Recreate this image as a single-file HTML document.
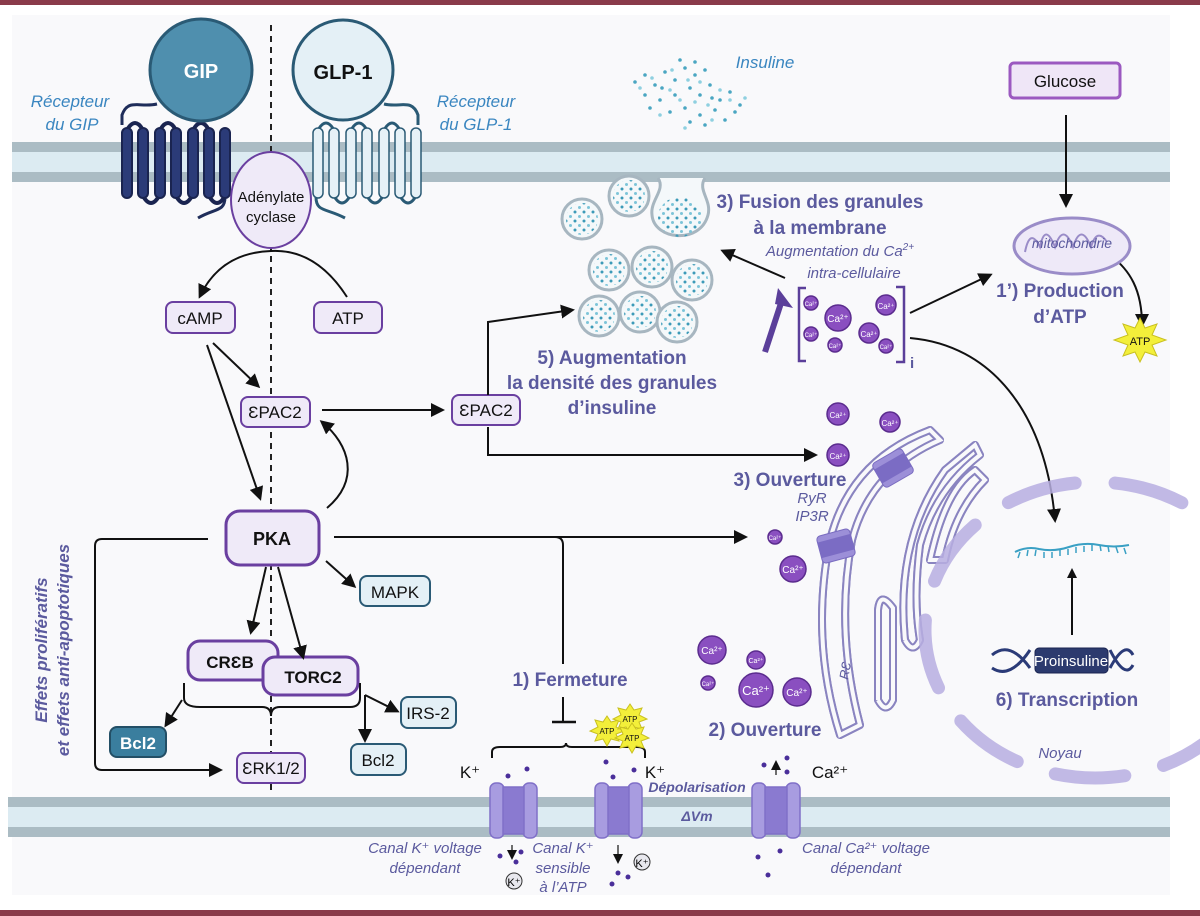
<!DOCTYPE html>
<html><head><meta charset="utf-8"><style>
html,body{margin:0;padding:0;background:#fff}
svg{display:block}
text{font-family:"Liberation Sans","DejaVu Sans",sans-serif}
.it{font-style:italic}
.b{font-weight:bold}
</style></head><body>
<svg width="1200" height="916" viewBox="0 0 1200 916" xmlns="http://www.w3.org/2000/svg">
<defs>
<marker id="ah" markerWidth="10" markerHeight="10" refX="8" refY="5" orient="auto" markerUnits="userSpaceOnUse"><path d="M0,0 L10,5 L0,10 z" fill="#111"/></marker>
<marker id="ah2" markerWidth="14" markerHeight="14" refX="11" refY="7" orient="auto" markerUnits="userSpaceOnUse"><path d="M0,0 L14,7 L0,14 z" fill="#111"/></marker>
<pattern id="dots" width="9" height="9" patternUnits="userSpaceOnUse"><circle cx="2" cy="2" r="1.5" fill="#3c9ab8"/><circle cx="6.5" cy="6.5" r="1.5" fill="#7cc4d8"/></pattern>
<symbol id="gran" viewBox="-22 -22 44 44"><circle r="20" fill="#f4f8fa" stroke="#a7b6c0" stroke-width="3"/><circle r="16" fill="url(#dots)"/></symbol>
</defs>
<rect width="1200" height="916" fill="#fff"/>
<rect x="0" y="0" width="1200" height="5" fill="#8a3b4a"/>
<rect x="0" y="910" width="1200" height="6" fill="#8a3b4a"/>
<rect x="12" y="15" width="1158" height="880" fill="#f9f9fb"/>

<rect x="12" y="142" width="1158" height="40" fill="#dcebf2"/>
<rect x="12" y="142" width="1158" height="10" fill="#abbcc4"/>
<rect x="12" y="172" width="1158" height="10" fill="#abbcc4"/>
<rect x="8" y="797" width="1162" height="40" fill="#dcebf2"/>
<rect x="8" y="797" width="1162" height="10" fill="#abbcc4"/>
<rect x="8" y="827" width="1162" height="10" fill="#abbcc4"/>

<line x1="271" y1="25" x2="271" y2="795" stroke="#222" stroke-width="2" stroke-dasharray="6,5"/>

<path d="M157,104 C140,108 128,98 122,115 L122,125" fill="none" stroke="#1f2d5a" stroke-width="3"/>
<path d="M225,197 C225,212 215,208 198,218" fill="none" stroke="#1f2d5a" stroke-width="3"/>
<g fill="#2b3b78" stroke="#1a2450" stroke-width="2">
<path d="M127,130 q8,-14 16,0 M160,130 q8,-14 16,0 M193,130 q8,-14 16,0 M143,196 q8,14 16,0 M176,196 q8,14 16,0 M209,196 q8,14 16,0" fill="none" stroke="#1a2450" stroke-width="4"/>
<rect x="122" y="128" width="10" height="70" rx="5"/><rect x="138" y="128" width="10" height="70" rx="5"/><rect x="155" y="128" width="10" height="70" rx="5"/><rect x="171" y="128" width="10" height="70" rx="5"/><rect x="188" y="128" width="10" height="70" rx="5"/><rect x="204" y="128" width="10" height="70" rx="5"/><rect x="220" y="128" width="10" height="70" rx="5"/>
</g>
<circle cx="201" cy="70" r="51" fill="#4f8fae" stroke="#2a5a75" stroke-width="3"/>
<text x="201" y="78" text-anchor="middle" class="b" font-size="20" fill="#fff">GIP</text>

<path d="M384,104 C400,108 412,98 418,115 L418,125" fill="none" stroke="#2a5a75" stroke-width="3"/>
<path d="M316,197 C316,212 326,208 345,218" fill="none" stroke="#2a5a75" stroke-width="3"/>
<g fill="#e6f1f7" stroke="#2a5a75" stroke-width="1.5">
<path d="M318,130 q8,-14 16,0 M351,130 q8,-14 16,0 M384,130 q8,-14 16,0 M334,196 q8,14 16,0 M367,196 q8,14 16,0 M400,196 q8,14 16,0" fill="none" stroke-width="3"/>
<rect x="313" y="128" width="10" height="70" rx="5"/><rect x="329" y="128" width="10" height="70" rx="5"/><rect x="346" y="128" width="10" height="70" rx="5"/><rect x="362" y="128" width="10" height="70" rx="5"/><rect x="379" y="128" width="10" height="70" rx="5"/><rect x="395" y="128" width="10" height="70" rx="5"/><rect x="411" y="128" width="10" height="70" rx="5"/>
</g>
<circle cx="343" cy="70" r="50" fill="#e4f0f6" stroke="#2a5a75" stroke-width="3"/>
<text x="343" y="79" text-anchor="middle" class="b" font-size="20" fill="#111">GLP-1</text>

<text x="70" y="107" text-anchor="middle" class="it" font-size="17" fill="#3a86c0">Récepteur</text>
<text x="72" y="130" text-anchor="middle" class="it" font-size="17" fill="#3a86c0">du GIP</text>
<text x="476" y="107" text-anchor="middle" class="it" font-size="17" fill="#3a86c0">Récepteur</text>
<text x="476" y="130" text-anchor="middle" class="it" font-size="17" fill="#3a86c0">du GLP-1</text>

<ellipse cx="271" cy="200" rx="40" ry="48" fill="#efeaf8" stroke="#6a3fa0" stroke-width="2"/>
<text x="271" y="202" text-anchor="middle" font-size="15" fill="#111">Adénylate</text>
<text x="271" y="222" text-anchor="middle" font-size="15" fill="#111">cyclase</text>

<path d="M347,297 C320,255 290,250 271,251 C240,252 215,265 200,296" fill="none" stroke="#111" stroke-width="2" marker-end="url(#ah2)"/>
<g fill="#efeaf8" stroke="#6a3fa0" stroke-width="2">
<rect x="166" y="302" width="69" height="31" rx="7"/>
<rect x="314" y="302" width="68" height="31" rx="7"/>
<rect x="241" y="397" width="69" height="30" rx="7"/>
<rect x="452" y="395" width="68" height="30" rx="7"/>
<rect x="237" y="753" width="68" height="30" rx="7"/>
<rect x="226" y="511" width="93" height="54" rx="14" stroke-width="3"/>
<rect x="188" y="641" width="90" height="39" rx="12" stroke-width="3"/>
<rect x="263" y="657" width="95" height="38" rx="12" stroke-width="3"/>
</g>
<text x="200" y="324" text-anchor="middle" font-size="17" fill="#111">cAMP</text>
<text x="348" y="324" text-anchor="middle" font-size="17" fill="#111">ATP</text>
<text x="275" y="418" text-anchor="middle" font-size="17" fill="#111">ƐPAC2</text>
<text x="486" y="416" text-anchor="middle" font-size="17" fill="#111">ƐPAC2</text>
<text x="271" y="774" text-anchor="middle" font-size="17" fill="#111">ƐRK1/2</text>
<text x="272" y="545" text-anchor="middle" class="b" font-size="18" fill="#111">PKA</text>
<text x="230" y="668" text-anchor="middle" class="b" font-size="17" fill="#111">CRƐB</text>
<text x="313" y="683" text-anchor="middle" class="b" font-size="17" fill="#111">TORC2</text>

<g fill="#e4f0f6" stroke="#2a5a75" stroke-width="2">
<rect x="360" y="576" width="70" height="30" rx="7"/>
<rect x="401" y="697" width="55" height="31" rx="7"/>
<rect x="351" y="744" width="55" height="31" rx="7"/>
</g>
<rect x="110" y="727" width="56" height="30" rx="7" fill="#3a7e9e" stroke="#234f66" stroke-width="2"/>
<text x="395" y="598" text-anchor="middle" font-size="17" fill="#111">MAPK</text>
<text x="428" y="719" text-anchor="middle" font-size="17" fill="#111">IRS-2</text>
<text x="378" y="766" text-anchor="middle" font-size="17" fill="#111">Bcl2</text>
<text x="138" y="749" text-anchor="middle" class="b" font-size="17" fill="#fff">Bcl2</text>

<g fill="none" stroke="#111" stroke-width="2">
<line x1="213" y1="343" x2="258" y2="386" marker-end="url(#ah2)"/>
<line x1="207" y1="345" x2="260" y2="498" marker-end="url(#ah2)"/>
<line x1="322" y1="410" x2="442" y2="410" marker-end="url(#ah2)"/>
<path d="M327,508 C360,480 350,445 322,422" marker-end="url(#ah2)"/>
<path d="M208,539 L102,539 Q95,539 95,546 L95,763 Q95,770 102,770 L220,770" marker-end="url(#ah2)"/>
<line x1="266" y1="567" x2="251" y2="632" marker-end="url(#ah2)"/>
<line x1="278" y1="567" x2="303" y2="657" marker-end="url(#ah2)"/>
<line x1="326" y1="561" x2="354" y2="586" marker-end="url(#ah2)"/>
<path d="M184,683 L184,698 Q184,707 200,707 L262,707 Q271,707 271,716 Q271,707 280,707 L350,707 Q360,707 360,698 L360,683"/>
<line x1="182" y1="700" x2="166" y2="725" marker-end="url(#ah2)"/>
<path d="M365,695 L365,740" marker-end="url(#ah2)"/>
<line x1="365" y1="695" x2="397" y2="711" marker-end="url(#ah2)"/>
<path d="M334,537 L745,537" marker-end="url(#ah2)"/>
<path d="M555,537 Q563,537 563,545 L563,664"/>
<line x1="563" y1="697" x2="563" y2="722"/>
<line x1="552" y1="722" x2="576" y2="722" stroke-width="2.5"/>
<path d="M492,758 L492,752 Q492,747 500,747 L560,747 Q566,747 566,743 Q566,747 572,747 L637,747 Q645,747 645,752 L645,758"/>
<path d="M488,395 L488,322 L572,310" marker-end="url(#ah2)"/>
<path d="M488,427 L488,455 L815,455" marker-end="url(#ah2)"/>
<line x1="785" y1="278" x2="723" y2="251" marker-end="url(#ah2)"/>
<line x1="910" y1="313" x2="990" y2="275" marker-end="url(#ah2)"/>
<line x1="1066" y1="115" x2="1066" y2="205" marker-end="url(#ah2)"/>
<path d="M1110,255 C1130,270 1142,290 1142,325" marker-end="url(#ah2)"/>
<path d="M910,338 C990,345 1045,410 1055,520" marker-end="url(#ah2)"/>
<line x1="1072" y1="635" x2="1072" y2="570" marker-end="url(#ah)"/>
</g>

<text transform="translate(47,650) rotate(-90)" text-anchor="middle" class="it b" font-size="17" fill="#5b5a9e">Effets prolifératifs</text>
<text transform="translate(69,650) rotate(-90)" text-anchor="middle" class="it b" font-size="17" fill="#5b5a9e">et effets anti-apoptotiques</text>

<g fill="#4aa6c2">
<circle cx="635" cy="82" r="1.8"/><circle cx="645" cy="75" r="1.8"/><circle cx="655" cy="85" r="1.8"/><circle cx="665" cy="72" r="1.8"/><circle cx="675" cy="80" r="1.8"/><circle cx="685" cy="68" r="1.8"/><circle cx="695" cy="75" r="1.8"/><circle cx="690" cy="88" r="1.8"/><circle cx="700" cy="95" r="1.8"/><circle cx="710" cy="85" r="1.8"/><circle cx="720" cy="100" r="1.8"/><circle cx="730" cy="92" r="1.8"/><circle cx="740" cy="105" r="1.8"/><circle cx="645" cy="95" r="1.8"/><circle cx="660" cy="100" r="1.8"/><circle cx="675" cy="95" r="1.8"/><circle cx="685" cy="108" r="1.8"/><circle cx="700" cy="115" r="1.8"/><circle cx="715" cy="110" r="1.8"/><circle cx="725" cy="120" r="1.8"/><circle cx="705" cy="125" r="1.8"/><circle cx="690" cy="122" r="1.8"/><circle cx="670" cy="112" r="1.8"/><circle cx="680" cy="60" r="1.8"/><circle cx="695" cy="62" r="1.8"/><circle cx="705" cy="70" r="1.8"/><circle cx="712" cy="98" r="1.8"/><circle cx="735" cy="112" r="1.8"/><circle cx="650" cy="108" r="1.8"/><circle cx="662" cy="88" r="1.8"/>
</g>
<g fill="#8fd0e0"><circle cx="640" cy="88" r="1.8"/><circle cx="652" cy="78" r="1.8"/><circle cx="670" cy="90" r="1.8"/><circle cx="680" cy="100" r="1.8"/><circle cx="695" cy="102" r="1.8"/><circle cx="708" cy="105" r="1.8"/><circle cx="720" cy="90" r="1.8"/><circle cx="730" cy="100" r="1.8"/><circle cx="745" cy="98" r="1.8"/><circle cx="688" cy="80" r="1.8"/><circle cx="700" cy="82" r="1.8"/><circle cx="712" cy="120" r="1.8"/><circle cx="685" cy="128" r="1.8"/><circle cx="660" cy="115" r="1.8"/><circle cx="672" cy="70" r="1.8"/></g>
<text x="765" y="68" text-anchor="middle" class="it" font-size="17" fill="#3a86c0">Insuline</text>

<use href="#gran" x="560" y="197" width="44" height="44"/>
<use href="#gran" x="607" y="174" width="44" height="44"/>
<path d="M658,178 C666,190 650,200 652,215 C654,240 700,245 708,215 C712,200 697,190 705,178" fill="#f4f8fa" stroke="#a7b6c0" stroke-width="3"/>
<ellipse cx="680" cy="217" rx="22" ry="20" fill="url(#dots)"/>
<use href="#gran" x="587" y="248" width="44" height="44"/>
<use href="#gran" x="630" y="245" width="44" height="44"/>
<use href="#gran" x="670" y="258" width="44" height="44"/>
<use href="#gran" x="577" y="294" width="44" height="44"/>
<use href="#gran" x="618" y="290" width="44" height="44"/>
<use href="#gran" x="655" y="300" width="44" height="44"/>

<text x="820" y="208" text-anchor="middle" class="b" font-size="19" fill="#5b5a9e">3) Fusion des granules</text>
<text x="820" y="234" text-anchor="middle" class="b" font-size="19" fill="#5b5a9e">à la membrane</text>
<text x="840" y="256" text-anchor="middle" class="it" font-size="15" fill="#5b5a9e">Augmentation du Ca<tspan font-size="10" dy="-6">2+</tspan></text>
<text x="854" y="278" text-anchor="middle" class="it" font-size="15" fill="#5b5a9e">intra-cellulaire</text>
<text x="612" y="364" text-anchor="middle" class="b" font-size="19" fill="#5b5a9e">5) Augmentation</text>
<text x="612" y="389" text-anchor="middle" class="b" font-size="19" fill="#5b5a9e">la densité des granules</text>
<text x="612" y="414" text-anchor="middle" class="b" font-size="19" fill="#5b5a9e">d’insuline</text>

<path d="M765,352 L782,300" stroke="#5b3f9a" stroke-width="6"/>
<path d="M778,288 L793,308 L775,304 z" fill="#5b3f9a"/>
<path d="M806,288 L799,288 L799,361 L806,361 M896,287 L904,287 L904,362 L896,362" fill="none" stroke="#5b3f9a" stroke-width="2.5"/>
<text x="910" y="368" class="b" font-size="15" fill="#5b5a9e">i</text>

<g fill="#8a4fc0" stroke="#5b2c8e" stroke-width="1.5">
<circle cx="811" cy="303" r="7"/><circle cx="838" cy="318" r="13"/><circle cx="886" cy="305" r="10"/><circle cx="811" cy="334" r="7"/><circle cx="835" cy="345" r="7"/><circle cx="869" cy="333" r="10"/><circle cx="886" cy="346" r="7"/>
<circle cx="838" cy="414" r="11"/><circle cx="890" cy="422" r="10"/><circle cx="838" cy="455" r="11"/><circle cx="775" cy="537" r="7"/><circle cx="793" cy="569" r="13"/>
<circle cx="712" cy="650" r="14"/><circle cx="756" cy="690" r="17"/><circle cx="797" cy="692" r="14"/><circle cx="756" cy="660" r="9"/><circle cx="708" cy="683" r="7"/>
</g>
<g fill="#fff" font-size="10" text-anchor="middle">
<text x="838" y="322">Ca²⁺</text><text x="869" y="337" font-size="8">Ca²⁺</text><text x="886" y="309" font-size="8">Ca²⁺</text>
<text x="811" y="306" font-size="6">Ca²⁺</text><text x="811" y="337" font-size="6">Ca²⁺</text><text x="835" y="348" font-size="6">Ca²⁺</text><text x="886" y="349" font-size="6">Ca²⁺</text>
<text x="838" y="418" font-size="8">Ca²⁺</text><text x="890" y="426" font-size="8">Ca²⁺</text><text x="838" y="459" font-size="8">Ca²⁺</text>
<text x="775" y="540" font-size="6">Ca²⁺</text><text x="756" y="663" font-size="7">Ca²⁺</text><text x="708" y="686" font-size="6">Ca²⁺</text>
<text x="793" y="573">Ca²⁺</text><text x="712" y="654">Ca²⁺</text><text x="756" y="695" font-size="13">Ca²⁺</text><text x="797" y="696">Ca²⁺</text>
</g>

<rect x="1010" y="63" width="110" height="35" rx="4" fill="#efe6f7" stroke="#9b59c0" stroke-width="3"/>
<text x="1065" y="87" text-anchor="middle" font-size="17" fill="#111">Glucose</text>
<ellipse cx="1072" cy="246" rx="58" ry="28" fill="#eee9f8" stroke="#9a8cc8" stroke-width="3"/>
<path d="M1025,252 q5,-25 15,-5 q5,-25 15,0 q8,-25 18,0 q8,-25 18,0 q6,-20 16,-5" fill="none" stroke="#9a8cc8" stroke-width="2"/>
<text x="1072" y="248" text-anchor="middle" class="it" font-size="14" fill="#5b5a9e">mitochondrie</text>
<text x="1060" y="297" text-anchor="middle" class="b" font-size="19" fill="#5b5a9e">1’) Production</text>
<text x="1060" y="323" text-anchor="middle" class="b" font-size="19" fill="#5b5a9e">d’ATP</text>
<polygon points="1140,318 1145,328 1157,324 1152,335 1166,340 1152,345 1157,356 1145,352 1140,362 1135,352 1123,356 1128,345 1114,340 1128,335 1123,324 1135,328" fill="#f3ef3a" stroke="#c9c020"/>
<text x="1140" y="345" text-anchor="middle" font-size="11" fill="#111">ATP</text>

<g fill="none" stroke-linecap="round" stroke-linejoin="round">
<path id="er" d="M840,735 Q810,640 830,540 Q850,460 930,430 L940,440 Q870,470 852,540 Q835,630 860,725 Z M878,700 L878,610 Q880,590 893,608 L893,700 Q886,715 878,700 M905,640 Q895,540 945,470 L975,445 L980,455 Q935,490 920,545 Q913,600 920,640 Q913,655 905,640 M930,560 Q945,490 975,470 L985,480 Q955,510 945,560 Z" stroke="#8a84c0" stroke-width="8"/>
<use href="#er" stroke="#f9f9fb" stroke-width="4"/>
</g>
<path d="M840,735 Q810,640 830,540 Q850,460 930,430 L940,440 Q870,470 852,540 Q835,630 860,725 Z M878,700 L878,610 Q880,590 893,608 L893,700 Q886,715 878,700 M905,640 Q895,540 945,470 L975,445 L980,455 Q935,490 920,545 Q913,600 920,640 Q913,655 905,640 M930,560 Q945,490 975,470 L985,480 Q955,510 945,560 Z" fill="none" stroke="#f9f9fb" stroke-width="4"/>
<text x="848" y="680" transform="rotate(-80 848 680)" class="it" font-size="13" fill="#5b5a9e">RƐ</text>
<g transform="rotate(-30 893 468)"><rect x="876" y="454" width="34" height="28" rx="4" fill="#9c8fd8" stroke="#7a6cc0"/><rect x="876" y="460" width="34" height="16" fill="#7b6cc4"/></g>
<g transform="rotate(-15 836 546)"><rect x="819" y="532" width="34" height="28" rx="4" fill="#9c8fd8" stroke="#7a6cc0"/><rect x="819" y="538" width="34" height="16" fill="#7b6cc4"/></g>
<text x="790" y="486" text-anchor="middle" class="b" font-size="19" fill="#5b5a9e">3) Ouverture</text>
<text x="812" y="503" text-anchor="middle" class="it" font-size="15" fill="#5b5a9e">RyR</text>
<text x="812" y="521" text-anchor="middle" class="it" font-size="15" fill="#5b5a9e">IP3R</text>
<text x="765" y="736" text-anchor="middle" class="b" font-size="19" fill="#5b5a9e">2) Ouverture</text>
<text x="570" y="686" text-anchor="middle" class="b" font-size="19" fill="#5b5a9e">1) Fermeture</text>

<ellipse cx="1095" cy="630" rx="170" ry="148" fill="none" stroke="#b7aee0" stroke-width="13" stroke-linecap="round" stroke-dasharray="70,40" opacity="0.85"/>
<path d="M1015,552 q12,-6 24,-3 q15,3 30,-2 q15,-5 30,-2 q15,3 30,0" fill="none" stroke="#3aa0c4" stroke-width="2"/>
<path d="M1020,552 l-2,6 M1028,550 l-1,6 M1036,550 l-1,6 M1044,552 l0,6 M1052,552 l0,6 M1060,550 l0,6 M1068,549 l0,6 M1076,547 l0,6 M1084,546 l0,6 M1092,545 l0,6 M1100,545 l1,6 M1108,546 l1,6 M1116,547 l2,6 M1124,548 l2,6" stroke="#3aa0c4" stroke-width="1.5"/>
<path d="M992,655 Q1010,640 1030,668 M992,668 Q1010,680 1030,650 M1110,668 Q1125,640 1133,655 M1110,650 Q1125,680 1133,665" fill="none" stroke="#2b3b78" stroke-width="3"/>
<rect x="1035" y="648" width="73" height="25" rx="4" fill="#2c3a6e" stroke="#1a2450"/>
<text x="1071" y="666" text-anchor="middle" font-size="15" fill="#fff">Proinsuline</text>
<text x="1067" y="706" text-anchor="middle" class="b" font-size="19" fill="#5b5a9e">6) Transcription</text>
<text x="1060" y="758" text-anchor="middle" class="it" font-size="15" fill="#5b5a9e">Noyau</text>

<g fill="#a89ce0" stroke="#8070c8" stroke-width="1.5">
<rect x="490" y="783" width="14" height="55" rx="6"/><rect x="523" y="783" width="14" height="55" rx="6"/><rect x="503" y="787" width="21" height="47" fill="#8a7ad0"/>
<rect x="595" y="783" width="14" height="55" rx="6"/><rect x="628" y="783" width="14" height="55" rx="6"/><rect x="608" y="787" width="21" height="47" fill="#8a7ad0"/>
<rect x="752" y="783" width="14" height="55" rx="6"/><rect x="786" y="783" width="14" height="55" rx="6"/><rect x="765" y="787" width="22" height="47" fill="#8a7ad0"/>
</g>
<g fill="#4a2f9a">
<circle cx="508" cy="776" r="2.5"/><circle cx="527" cy="769" r="2.5"/><circle cx="606" cy="762" r="2.5"/><circle cx="613" cy="777" r="2.5"/><circle cx="634" cy="770" r="2.5"/>
<circle cx="500" cy="856" r="2.5"/><circle cx="521" cy="852" r="2.5"/><circle cx="516" cy="862" r="2.5"/><circle cx="618" cy="873" r="2.5"/><circle cx="612" cy="884" r="2.5"/><circle cx="628" cy="877" r="2.5"/>
<circle cx="764" cy="765" r="2.5"/><circle cx="787" cy="758" r="2.5"/><circle cx="787" cy="772" r="2.5"/><circle cx="758" cy="857" r="2.5"/><circle cx="780" cy="851" r="2.5"/><circle cx="768" cy="875" r="2.5"/>
</g>
<g stroke="#111" stroke-width="1.2" marker-end="url(#ah)"><line x1="512" y1="845" x2="512" y2="858"/><line x1="618" y1="845" x2="618" y2="862"/><line x1="776" y1="775" x2="776" y2="762"/></g>
<circle cx="514" cy="881" r="8" fill="#e8e8ee" stroke="#333"/><text x="514" y="886" text-anchor="middle" font-size="11">K⁺</text>
<circle cx="642" cy="862" r="8" fill="#e8e8ee" stroke="#333"/><text x="642" y="867" text-anchor="middle" font-size="11">K⁺</text>
<text x="470" y="778" text-anchor="middle" font-size="17" fill="#111">K⁺</text>
<text x="655" y="778" text-anchor="middle" font-size="17" fill="#111">K⁺</text>
<text x="830" y="778" text-anchor="middle" font-size="17" fill="#111">Ca²⁺</text>
<text x="697" y="792" text-anchor="middle" class="it b" font-size="14" fill="#5b5a9e">Dépolarisation</text>
<text x="697" y="821" text-anchor="middle" class="it b" font-size="14" fill="#5b5a9e">ΔVm</text>
<text x="425" y="853" text-anchor="middle" class="it" font-size="15" fill="#5b5a9e">Canal K⁺ voltage</text>
<text x="425" y="873" text-anchor="middle" class="it" font-size="15" fill="#5b5a9e">dépendant</text>
<text x="563" y="853" text-anchor="middle" class="it" font-size="15" fill="#5b5a9e">Canal K⁺</text>
<text x="563" y="873" text-anchor="middle" class="it" font-size="15" fill="#5b5a9e">sensible</text>
<text x="563" y="892" text-anchor="middle" class="it" font-size="15" fill="#5b5a9e">à l’ATP</text>
<text x="866" y="853" text-anchor="middle" class="it" font-size="15" fill="#5b5a9e">Canal Ca²⁺ voltage</text>
<text x="866" y="873" text-anchor="middle" class="it" font-size="15" fill="#5b5a9e">dépendant</text>

<g fill="#f3ef3a" stroke="#c9c020">
<polygon points="607,716 611,722 619,720 616,727 624,731 616,734 619,741 611,739 607,746 603,739 595,741 598,734 590,731 598,727 595,720 603,722"/>
<polygon points="630,704 634,710 642,708 639,715 647,719 639,722 642,729 634,727 630,734 626,727 618,729 621,722 613,719 621,715 618,708 626,710"/>
<polygon points="632,723 636,729 644,727 641,734 649,738 641,741 644,748 636,746 632,753 628,746 620,748 623,741 615,738 623,734 620,727 628,729"/>
</g>
<g font-size="8" text-anchor="middle" fill="#111"><text x="607" y="734">ATP</text><text x="630" y="722">ATP</text><text x="632" y="741">ATP</text></g>
</svg>
</body></html>
